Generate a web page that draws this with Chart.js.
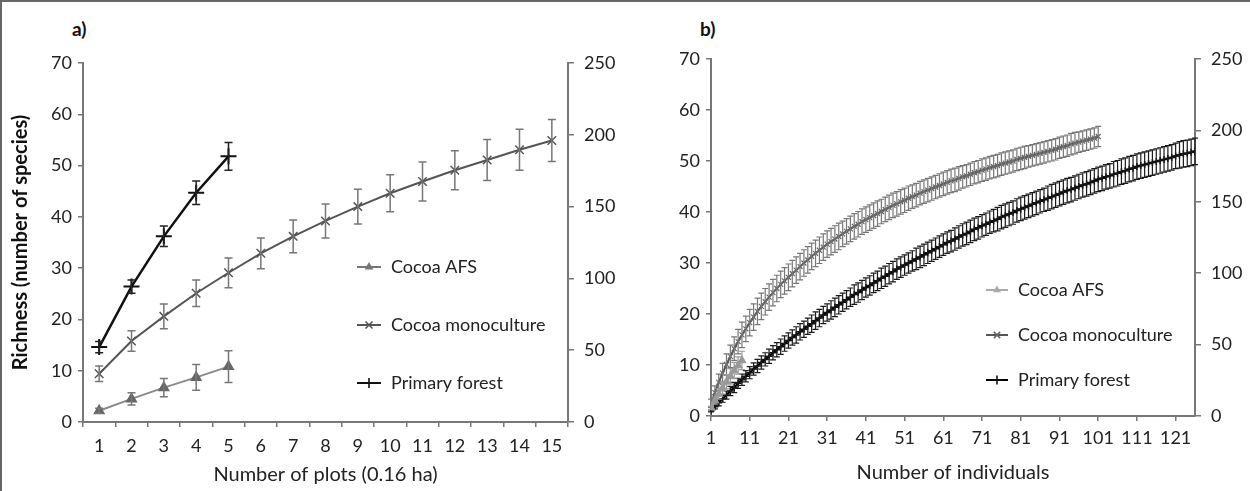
<!DOCTYPE html>
<html>
<head>
<meta charset="utf-8">
<script src="https://cdn.jsdelivr.net/npm/chart.js"></script>
<style>
  html, body { margin: 0; padding: 0; background: #fff; }
  body { width: 1250px; height: 491px; position: relative; overflow: hidden; font-family: Lato, sans-serif; }
  .frame { position: absolute; left: 0; top: 0; width: 1250px; height: 491px; box-sizing: border-box;
           border-top: 2px solid #666; border-left: 2px solid #666; }
  .panel { position: absolute; top: 0; height: 491px; }
  #pa { left: 0; width: 620px; }
  #pb { left: 620px; width: 630px; }
  .tag { position: absolute; top: 17px; font: bold 19px Lato, sans-serif; color: #111; }
</style>
</head>
<body>
<div class="frame"></div>
<div class="tag" style="left:72px">a)</div>
<div class="tag" style="left:700px">b)</div>
<div class="panel" id="pa"><canvas id="chartA"></canvas></div>
<div class="panel" id="pb"><canvas id="chartB"></canvas></div>
<script>
// a) richness vs number of plots
const plotLabels = ['1', '2', '3', '4', '5', '6', '7', '8', '9', '10', '11', '12', '13', '14', '15'];
const afsPlots = [2.2, 4.5, 6.7, 8.7, 10.8];
const afsPlotsErr = [0.5, 1.2, 1.8, 2.5, 3.1];
const monoPlots = [9.4, 15.8, 20.6, 25.1, 29.1, 32.9, 36.2, 39.2, 42.0, 44.6, 46.9, 49.1, 51.1, 53.1, 54.9];
const monoPlotsErr = [1.5, 2.0, 2.4, 2.6, 2.9, 3.0, 3.2, 3.3, 3.4, 3.6, 3.8, 3.8, 4.0, 4.0, 4.1];
const forestPlots = [14.6, 26.4, 36.2, 44.7, 51.8];
const forestPlotsErr = [1.1, 1.3, 2.0, 2.3, 2.7];

// b) richness vs number of individuals
const indivTicks = [1, 11, 21, 31, 41, 51, 61, 71, 81, 91, 101, 111, 121];
const afsIndiv = [1.6, 3.0, 4.3, 5.5, 6.7, 7.8, 8.9, 9.9, 10.9];
const afsIndivErr = [0.3, 0.7, 1.0, 1.2, 1.4, 1.5, 1.6, 1.7, 1.8];
const monoIndiv = [
  2.5, 4.6, 6.6, 8.4, 10.1, 11.7, 13.2, 14.6, 15.9, 17.1,
  18.3, 19.4, 20.5, 21.5, 22.4, 23.3, 24.2, 25.0, 25.8, 26.5,
  27.2, 27.9, 28.6, 29.3, 30.0, 30.6, 31.3, 31.9, 32.5, 33.1,
  33.7, 34.2, 34.7, 35.2, 35.7, 36.2, 36.7, 37.2, 37.6, 38.1,
  38.5, 38.9, 39.3, 39.7, 40.1, 40.5, 40.9, 41.3, 41.6, 42.0,
  42.3, 42.7, 43.0, 43.3, 43.7, 44.0, 44.3, 44.6, 44.9, 45.2,
  45.5, 45.8, 46.1, 46.3, 46.6, 46.9, 47.1, 47.4, 47.7, 47.9,
  48.2, 48.4, 48.7, 48.9, 49.1, 49.4, 49.6, 49.8, 50.0, 50.3,
  50.5, 50.7, 50.9, 51.1, 51.3, 51.5, 51.7, 51.9, 52.1, 52.3,
  52.6, 52.8, 53.0, 53.3, 53.5, 53.7, 53.9, 54.1, 54.3, 54.5, 54.8
];
const monoIndivErr = [
  0.8, 1.3, 1.6, 1.9, 2.1, 2.2, 2.3, 2.4, 2.5, 2.5,
  2.6, 2.6, 2.6, 2.6, 2.6, 2.6, 2.6, 2.6, 2.6, 2.6,
  2.6, 2.6, 2.6, 2.6, 2.6, 2.6, 2.6, 2.6, 2.6, 2.6,
  2.6, 2.6, 2.6, 2.6, 2.5, 2.5, 2.5, 2.5, 2.5, 2.5,
  2.5, 2.5, 2.5, 2.5, 2.4, 2.4, 2.4, 2.4, 2.4, 2.4,
  2.4, 2.4, 2.3, 2.3, 2.3, 2.3, 2.3, 2.3, 2.3, 2.3,
  2.3, 2.3, 2.3, 2.3, 2.3, 2.2, 2.2, 2.2, 2.2, 2.2,
  2.2, 2.2, 2.2, 2.2, 2.2, 2.2, 2.2, 2.2, 2.2, 2.2,
  2.2, 2.2, 2.1, 2.1, 2.1, 2.1, 2.1, 2.1, 2.1, 2.1,
  2.1, 2.1, 2.1, 2.1, 2.1, 2.0, 2.0, 2.0, 2.0, 2.0, 2.0
];
const forestIndiv = [
  1.0, 1.8, 2.6, 3.4, 4.1, 4.9, 5.6, 6.4, 7.1, 7.8,
  8.5, 9.2, 9.8, 10.5, 11.1, 11.7, 12.4, 13.0, 13.6, 14.2,
  14.8, 15.4, 15.9, 16.5, 17.0, 17.6, 18.1, 18.7, 19.2, 19.8,
  20.3, 20.8, 21.3, 21.8, 22.3, 22.8, 23.3, 23.8, 24.2, 24.7,
  25.2, 25.6, 26.1, 26.5, 27.0, 27.4, 27.9, 28.3, 28.8, 29.2,
  29.6, 30.0, 30.4, 30.8, 31.2, 31.6, 32.0, 32.4, 32.8, 33.2,
  33.6, 34.0, 34.3, 34.7, 35.1, 35.5, 35.8, 36.2, 36.6, 36.9,
  37.3, 37.6, 38.0, 38.3, 38.6, 39.0, 39.3, 39.6, 39.9, 40.3,
  40.6, 40.9, 41.2, 41.5, 41.8, 42.1, 42.4, 42.7, 43.0, 43.3,
  43.6, 43.9, 44.2, 44.4, 44.7, 45.0, 45.3, 45.5, 45.8, 46.1,
  46.4, 46.6, 46.9, 47.1, 47.4, 47.6, 47.9, 48.1, 48.4, 48.6,
  48.9, 49.1, 49.3, 49.5, 49.7, 49.9, 50.1, 50.3, 50.5, 50.7,
  51.0, 51.2, 51.4, 51.5, 51.7, 51.9
];
const forestIndivErr = [
  0.2, 0.4, 0.6, 0.7, 0.8, 0.9, 1.0, 1.0, 1.1, 1.1,
  1.2, 1.2, 1.3, 1.3, 1.3, 1.4, 1.4, 1.4, 1.5, 1.5,
  1.5, 1.5, 1.6, 1.6, 1.6, 1.6, 1.7, 1.7, 1.7, 1.7,
  1.7, 1.8, 1.8, 1.8, 1.8, 1.8, 1.8, 1.9, 1.9, 1.9,
  1.9, 1.9, 1.9, 1.9, 2.0, 2.0, 2.0, 2.0, 2.0, 2.0,
  2.0, 2.0, 2.0, 2.1, 2.1, 2.1, 2.1, 2.1, 2.1, 2.1,
  2.1, 2.1, 2.1, 2.2, 2.2, 2.2, 2.2, 2.2, 2.2, 2.2,
  2.2, 2.2, 2.2, 2.2, 2.3, 2.3, 2.3, 2.3, 2.3, 2.3,
  2.3, 2.3, 2.3, 2.3, 2.3, 2.3, 2.3, 2.4, 2.4, 2.4,
  2.4, 2.4, 2.4, 2.4, 2.4, 2.4, 2.4, 2.4, 2.4, 2.4,
  2.4, 2.4, 2.4, 2.4, 2.5, 2.5, 2.5, 2.5, 2.5, 2.5,
  2.5, 2.5, 2.5, 2.5, 2.5, 2.5, 2.5, 2.5, 2.5, 2.5,
  2.5, 2.6, 2.6, 2.6, 2.6, 2.6
];

Chart.defaults.font.family = 'Lato, sans-serif';
Chart.defaults.font.size = 18;
Chart.defaults.color = '#222';

// individuals numbered from 1
const toXY = vals => vals.map((v, i) => ({ x: i + 1, y: v }));

// vertical error bars, drawn through the y scale
const errorBars = {
  id: 'errorBars',
  afterDatasetDraw(chart, args) {
    const ds = chart.data.datasets[args.index];
    if (!ds.err) return;
    const yScale = chart.scales[args.meta.yAxisID];
    const ctx = chart.ctx;
    ctx.save();
    ctx.strokeStyle = ds.err.color;
    ctx.lineWidth = ds.err.width;
    args.meta.data.forEach((pt, i) => {
      const raw = ds.data[i];
      const v = typeof raw === 'object' ? raw.y : raw;
      const e = ds.err.values[i];
      const top = yScale.getPixelForValue(v + e);
      const bot = yScale.getPixelForValue(v - e);
      const c = ds.err.cap;
      ctx.beginPath();
      ctx.moveTo(pt.x, top); ctx.lineTo(pt.x, bot);
      ctx.moveTo(pt.x - c, top); ctx.lineTo(pt.x + c, top);
      ctx.moveTo(pt.x - c, bot); ctx.lineTo(pt.x + c, bot);
      ctx.stroke();
    });
    ctx.restore();
  }
};

function drawMarker(ctx, style, x, y, r, color, lw) {
  ctx.save();
  ctx.strokeStyle = color;
  ctx.fillStyle = color;
  ctx.lineWidth = lw;
  ctx.beginPath();
  if (style === 'triangle') {
    ctx.moveTo(x, y - r);
    ctx.lineTo(x + r * 0.87, y + r * 0.5);
    ctx.lineTo(x - r * 0.87, y + r * 0.5);
    ctx.closePath();
    ctx.fill();
  } else if (style === 'crossRot') {
    const d = r * 0.7;
    ctx.moveTo(x - d, y - d); ctx.lineTo(x + d, y + d);
    ctx.moveTo(x + d, y - d); ctx.lineTo(x - d, y + d);
    ctx.stroke();
  } else {
    ctx.moveTo(x - r, y); ctx.lineTo(x + r, y);
    ctx.moveTo(x, y - r); ctx.lineTo(x, y + r);
    ctx.stroke();
  }
  ctx.restore();
}

// legend placed inside the plot like the original
const boxLegend = {
  id: 'boxLegend',
  afterDraw(chart, args, opts) {
    const ctx = chart.ctx;
    chart.data.datasets.forEach((ds, i) => {
      const y = opts.y + i * opts.gap;
      const x0 = opts.x, x1 = opts.x + opts.sample;
      ctx.save();
      ctx.strokeStyle = ds.legendColor || ds.borderColor;
      ctx.lineWidth = 2;
      ctx.beginPath(); ctx.moveTo(x0, y); ctx.lineTo(x1, y); ctx.stroke();
      ctx.restore();
      drawMarker(ctx, ds.pointStyle, (x0 + x1) / 2, y, opts.marker, ds.legendColor || ds.pointBorderColor, 1.6);
      ctx.save();
      ctx.fillStyle = '#222';
      ctx.font = '18px Lato, sans-serif';
      ctx.textBaseline = 'middle';
      ctx.fillText(ds.label, x1 + 10, y);
      ctx.restore();
    });
  }
};

function yAxes(width, rightWidth, title) {
  return {
    y: {
      position: 'left', min: 0, max: 70,
      ticks: { stepSize: 10, padding: 6, color: '#222' },
      grid: { drawOnChartArea: false, tickLength: 5, color: '#777', lineWidth: 1.5 },
      border: { color: '#777', width: 2 },
      title: title,
      afterFit: s => { s.width = width; }
    },
    y2: {
      position: 'right', min: 0, max: 250,
      ticks: { stepSize: 50, padding: 10, color: '#222' },
      grid: { drawOnChartArea: false, tickLength: 6, color: '#777', lineWidth: 1.5 },
      border: { color: '#777', width: 2 },
      afterFit: s => { s.width = rightWidth; }
    }
  };
}

new Chart(document.getElementById('chartA'), {
  type: 'line',
  data: {
    labels: plotLabels,
    datasets: [
      {
        label: 'Cocoa AFS', data: afsPlots, yAxisID: 'y',
        borderColor: '#8a8a8a', borderWidth: 2,
        pointStyle: 'triangle', pointRadius: 5, pointBackgroundColor: '#666', pointBorderColor: '#666',
        legendColor: '#777',
        err: { values: afsPlotsErr, color: '#777', width: 1.5, cap: 4 }
      },
      {
        label: 'Cocoa monoculture', data: monoPlots, yAxisID: 'y',
        borderColor: '#555', borderWidth: 2,
        pointStyle: 'crossRot', pointRadius: 6, pointBorderColor: '#555', pointBorderWidth: 1.5,
        err: { values: monoPlotsErr, color: '#777', width: 1.5, cap: 4 }
      },
      {
        label: 'Primary forest', data: forestPlots, yAxisID: 'y',
        borderColor: '#111', borderWidth: 2.5,
        pointStyle: 'cross', pointRadius: 8, pointBorderColor: '#111', pointBorderWidth: 2,
        err: { values: forestPlotsErr, color: '#222', width: 1.5, cap: 4 }
      }
    ]
  },
  options: {
    responsive: true, maintainAspectRatio: false, animation: false, events: [],
    layout: { padding: { top: 63, left: 0, right: 0, bottom: 0 } },
    plugins: {
      legend: { display: false }, tooltip: { enabled: false },
      boxLegend: { x: 357, y: 267, gap: 58, sample: 24, marker: 5 }
    },
    scales: Object.assign({
      x: {
        type: 'category', offset: true,
        grid: { offset: true, drawOnChartArea: false, tickLength: 5, color: '#777', lineWidth: 1.5 },
        border: { color: '#777', width: 2 },
        ticks: { padding: 8, color: '#222', maxRotation: 0, autoSkip: false },
        title: { display: true, text: 'Number of plots (0.16 ha)', font: { size: 20 }, color: '#222', padding: { top: 0, bottom: 4 } },
        afterFit: s => { s.height = 69; }
      }
    }, yAxes(83, 52, { display: true, text: 'Richness (number of species)', font: { size: 20, weight: 'bold' }, color: '#111', padding: { top: 9, bottom: 0 } }))
  },
  plugins: [errorBars, boxLegend]
});

new Chart(document.getElementById('chartB'), {
  type: 'line',
  data: {
    datasets: [
      {
        label: 'Cocoa AFS', data: toXY(afsIndiv), yAxisID: 'y',
        borderColor: '#a0a0a0', borderWidth: 2,
        pointStyle: 'triangle', pointRadius: 3.5, pointBackgroundColor: '#999', pointBorderColor: '#999',
        legendColor: '#aaa',
        err: { values: afsIndivErr, color: '#999', width: 1.2, cap: 3 }
      },
      {
        label: 'Cocoa monoculture', data: toXY(monoIndiv), yAxisID: 'y',
        borderColor: '#555', borderWidth: 2,
        pointStyle: 'crossRot', pointRadius: 3.5, pointBorderColor: '#666', pointBorderWidth: 1.2,
        err: { values: monoIndivErr, color: '#777', width: 1.2, cap: 3 }
      },
      {
        label: 'Primary forest', data: toXY(forestIndiv), yAxisID: 'y',
        borderColor: '#000', borderWidth: 2.2,
        pointStyle: 'cross', pointRadius: 3.5, pointBorderColor: '#111', pointBorderWidth: 1.5,
        err: { values: forestIndivErr, color: '#1a1a1a', width: 1.2, cap: 3 }
      }
    ]
  },
  options: {
    responsive: true, maintainAspectRatio: false, animation: false, events: [],
    layout: { padding: { top: 59, left: 0, right: 0, bottom: 0 } },
    plugins: {
      legend: { display: false }, tooltip: { enabled: false },
      boxLegend: { x: 366, y: 290, gap: 45, sample: 22, marker: 4.5 }
    },
    scales: Object.assign({
      x: {
        type: 'linear', min: 1, max: 126,
        afterBuildTicks: s => { s.ticks = indivTicks.map(v => ({ value: v })); },
        grid: { drawOnChartArea: false, tickLength: 5, color: '#777', lineWidth: 1.5 },
        border: { color: '#777', width: 2 },
        ticks: { padding: 6, color: '#222', maxRotation: 0, autoSkip: false },
        title: { display: true, text: 'Number of individuals', font: { size: 20 }, color: '#222', padding: { top: 0, bottom: 6 } },
        afterFit: s => { s.height = 75; }
      }
    }, yAxes(91, 55, { display: false }))
  },
  plugins: [errorBars, boxLegend]
});
</script>
</body>
</html>
